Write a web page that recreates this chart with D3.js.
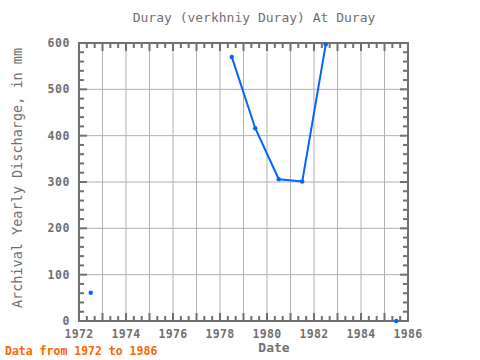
<!DOCTYPE html>
<html>
<head>
<meta charset="utf-8">
<script src="https://cdn.jsdelivr.net/npm/d3@7"></script>
<style>
  body { margin: 0; background: #fff; }
  text { font-family: "DejaVu Sans Mono", monospace; }
</style>
</head>
<body>
<svg id="chart" width="480" height="360"></svg>
<script>
// yearly values, null means no data for that year
const years = [1972.5, 1973.5, 1974.5, 1975.5, 1976.5, 1977.5, 1978.5, 1979.5, 1980.5, 1981.5, 1982.5, 1983.5, 1984.5, 1985.5];
const discharge = [61, null, null, null, null, null, 570, 416, 306, 301, 597, null, null, 0];
const xTicks = [1972, 1974, 1976, 1978, 1980, 1982, 1984, 1986];
const yTicks = [0, 100, 200, 300, 400, 500, 600];

const margin = { left: 79, top: 43, right: 72, bottom: 39 };
const width = 480, height = 360;
const grey = "#707070";

const svg = d3.select("#chart");
const x = d3.scaleLinear().domain([1972, 1986]).range([margin.left, width - margin.right]);
const y = d3.scaleLinear().domain([0, 600]).range([height - margin.bottom, margin.top]);

// grid
const grid = svg.append("g").attr("stroke", "#b0b0b0").attr("stroke-width", 1);
grid.selectAll("line.vx")
    .data(d3.range(1973, 1986))
    .join("line")
    .attr("x1", d => x(d)).attr("x2", d => x(d))
    .attr("y1", y(0)).attr("y2", y(600));
grid.selectAll("line.hy")
    .data(yTicks.slice(1, -1))
    .join("line")
    .attr("x1", x(1972)).attr("x2", x(1986))
    .attr("y1", d => y(d)).attr("y2", d => y(d));

// ticks inside frame on all sides
const ticks = svg.append("g").attr("stroke", grey).attr("stroke-width", 2);
const xMinor = d3.range(0, 14 * 3 + 1).map(i => 1972 + i / 3);
xMinor.forEach((v, i) => {
    const len = i % 3 === 0 ? 8 : 5;
    ticks.append("line").attr("x1", x(v)).attr("x2", x(v)).attr("y1", y(0)).attr("y2", y(0) - len);
    ticks.append("line").attr("x1", x(v)).attr("x2", x(v)).attr("y1", y(600)).attr("y2", y(600) + len);
});
const yMinor = d3.range(0, 31).map(i => i * 20);
yMinor.forEach((v, i) => {
    const len = i % 5 === 0 ? 8 : 5;
    ticks.append("line").attr("x1", x(1972)).attr("x2", x(1972) + len).attr("y1", y(v)).attr("y2", y(v));
    ticks.append("line").attr("x1", x(1986)).attr("x2", x(1986) - len).attr("y1", y(v)).attr("y2", y(v));
});

// frame
svg.append("rect")
    .attr("x", x(1972)).attr("y", y(600))
    .attr("width", x(1986) - x(1972)).attr("height", y(0) - y(600))
    .attr("fill", "none").attr("stroke", grey).attr("stroke-width", 2);

// tick labels
svg.append("g").selectAll("text")
    .data(xTicks)
    .join("text")
    .attr("x", d => x(d)).attr("y", y(0) + 17)
    .attr("text-anchor", "middle")
    .attr("font-size", 11.5).attr("font-weight", "bold").attr("fill", grey)
    .attr("letter-spacing", 0.3)
    .text(d => d);
svg.append("g").selectAll("text")
    .data(yTicks)
    .join("text")
    .attr("x", x(1972) - 9).attr("y", d => y(d) + 4)
    .attr("text-anchor", "end")
    .attr("font-size", 11.5).attr("font-weight", "bold").attr("fill", grey)
    .attr("letter-spacing", 0.6)
    .text(d => d);

// data line
const pts = years.map((yr, i) => ({ yr, v: discharge[i] }));
const line = d3.line()
    .defined(d => d.v !== null)
    .x(d => x(d.yr)).y(d => y(d.v));
svg.append("path")
    .datum(pts)
    .attr("d", line)
    .attr("fill", "none").attr("stroke", "#0066ff").attr("stroke-width", 2);
svg.append("g").selectAll("circle")
    .data(pts.filter(d => d.v !== null))
    .join("circle")
    .attr("cx", d => x(d.yr)).attr("cy", d => y(d.v))
    .attr("r", 2.2).attr("fill", "#0066ff");

// titles
svg.append("text")
    .attr("x", 254).attr("y", 22)
    .attr("text-anchor", "middle")
    .attr("font-size", 13).attr("fill", grey)
    .text("Duray (verkhniy Duray) At Duray");
svg.append("text")
    .attr("x", 274).attr("y", 352)
    .attr("text-anchor", "middle")
    .attr("font-size", 13).attr("font-weight", "bold").attr("fill", grey)
    .text("Date");
svg.append("text")
    .attr("transform", "translate(22,178) rotate(-90)")
    .attr("text-anchor", "middle")
    .attr("font-size", 13.5).attr("fill", grey)
    .text("Archival Yearly Discharge, in mm");
svg.append("text")
    .attr("x", 5).attr("y", 355)
    .attr("font-size", 11.5).attr("font-weight", "bold").attr("fill", "#ff6600")
    .text("Data from 1972 to 1986");
</script>
</body>
</html>
